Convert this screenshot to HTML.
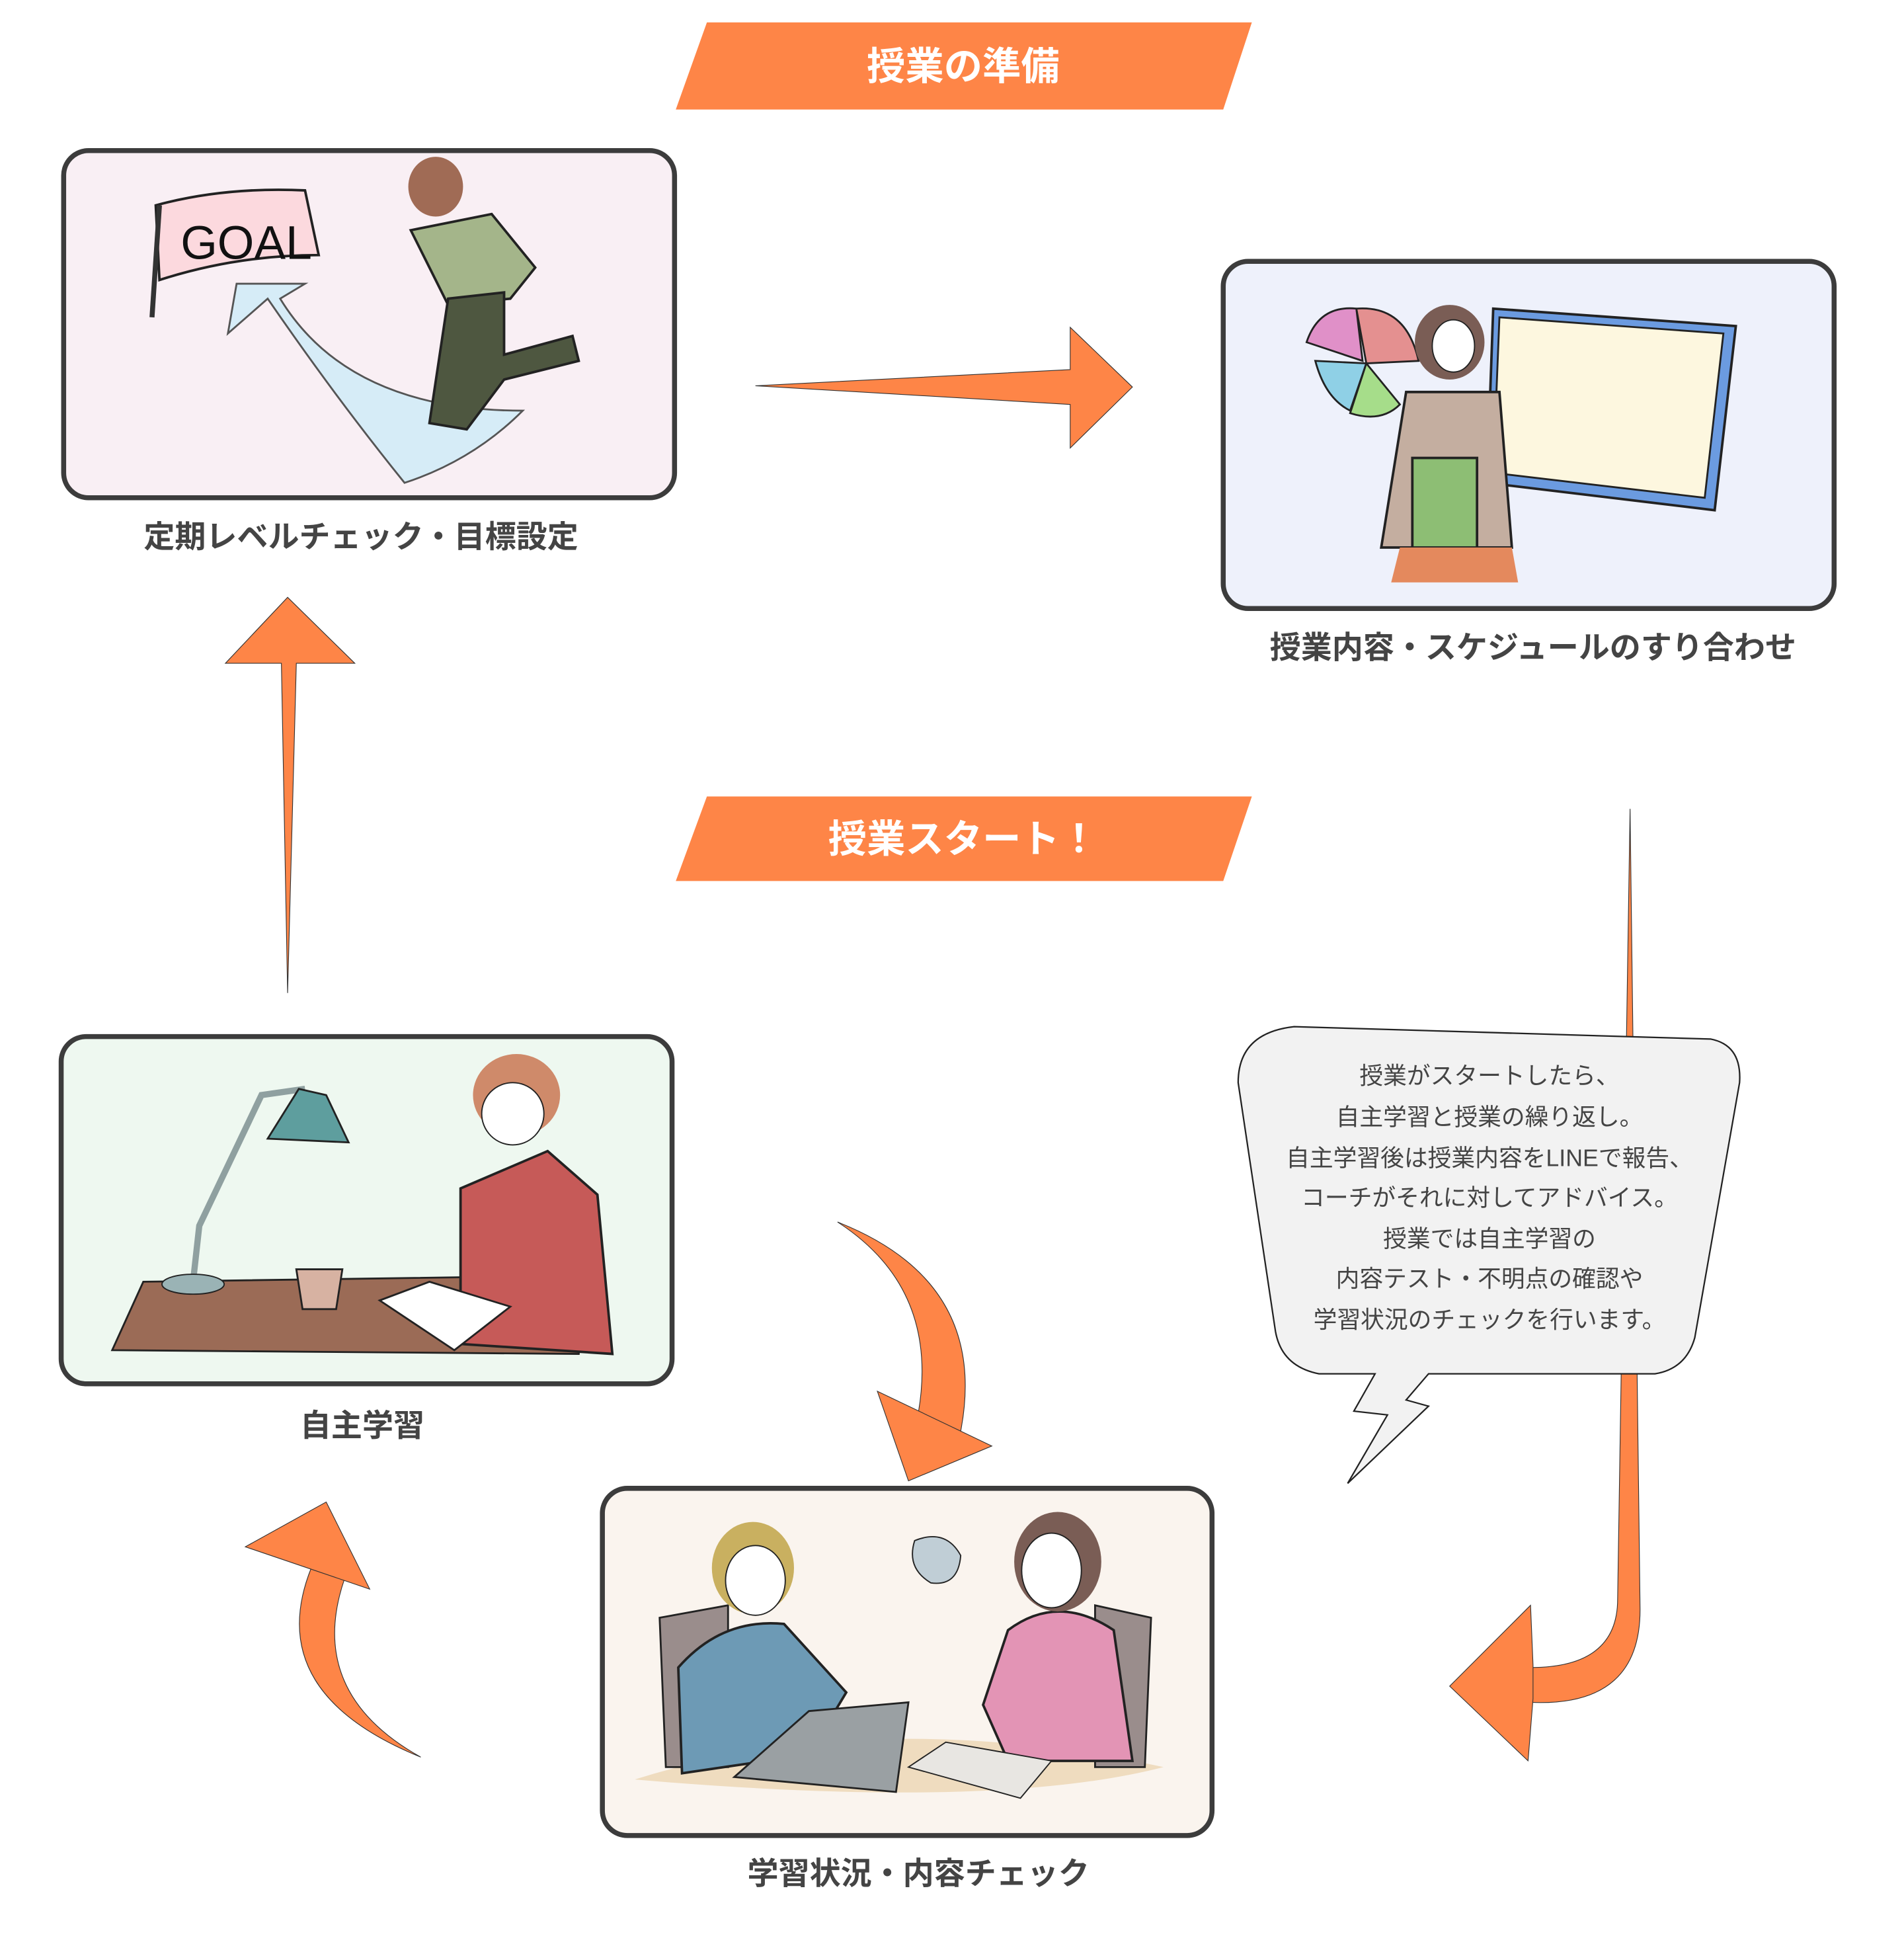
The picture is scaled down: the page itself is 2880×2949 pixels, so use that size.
<!DOCTYPE html>
<html><head><meta charset="utf-8"><style>
html,body{margin:0;padding:0;background:#fff;}
svg{display:block;}
text{font-family:"Liberation Sans","Noto Sans CJK JP",sans-serif;}
</style></head><body>
<svg width="2880" height="2949" viewBox="0 0 1530 1567" xmlns="http://www.w3.org/2000/svg">
<!-- banners -->
<polygon points="568,18 1006,18 983,88 543,88" fill="#fe8547"/>
<text x="774" y="64" font-size="31" font-weight="bold" fill="#fff" text-anchor="middle">授業の準備</text>
<polygon points="568,640 1006,640 983,708 543,708" fill="#fe8547"/>
<text x="774" y="685" font-size="31" font-weight="bold" fill="#fff" text-anchor="middle">授業スタート！</text>

<!-- box1 -->
<rect x="51" y="121" width="491" height="279" rx="20" fill="#f9eff4" stroke="#3c3c3c" stroke-width="4"/>
<path d="M125,165 Q180,150 245,153 L256,205 Q190,205 128,225 Z" fill="#fcd9de" stroke="#222" stroke-width="2"/>
<line x1="128" y1="165" x2="122" y2="255" stroke="#333" stroke-width="4"/>
<text x="145" y="208" font-size="38" fill="#111" font-family="Liberation Sans">GOAL</text>
<path d="M183,268 L190,228 L245,228 L225,240 Q280,330 420,330 Q380,370 325,388 Q270,320 215,240 Z" fill="#d6ecf7" stroke="#555" stroke-width="1.5"/>
<ellipse cx="350" cy="150" rx="22" ry="24" fill="#a06b55"/>
<path d="M330,185 L395,172 L430,215 L410,240 L360,245 Z" fill="#a4b58a" stroke="#222" stroke-width="2"/>
<path d="M360,240 L405,235 L405,285 L460,270 L465,290 L405,305 L375,345 L345,340 Z" fill="#4e5740" stroke="#222" stroke-width="2"/>
<text x="290" y="440" font-size="25" font-weight="bold" fill="#444" text-anchor="middle">定期レベルチェック・目標設定</text>

<!-- box2 -->
<rect x="983" y="210" width="491" height="279" rx="20" fill="#eef1fb" stroke="#3c3c3c" stroke-width="4"/>
<path d="M1200,248 L1395,262 L1378,410 L1195,388 Z" fill="#6b9be0" stroke="#222" stroke-width="2"/>
<path d="M1205,255 L1385,268 L1370,400 L1200,380 Z" fill="#fdf7df" stroke="#222" stroke-width="1.5"/>
<path d="M1095,290 L1050,275 Q1060,245 1090,248 Z" fill="#e090c8" stroke="#222" stroke-width="1.5"/>
<path d="M1098,292 L1090,248 Q1130,245 1140,290 Z" fill="#e49090" stroke="#222" stroke-width="1.5"/>
<path d="M1098,292 L1057,290 Q1065,320 1085,330 Z" fill="#8fd0e6" stroke="#222" stroke-width="1.5"/>
<path d="M1098,292 L1085,332 Q1110,340 1125,325 Z" fill="#a6dd8a" stroke="#222" stroke-width="1.5"/>
<ellipse cx="1165" cy="275" rx="28" ry="30" fill="#7a5d55"/>
<ellipse cx="1168" cy="278" rx="17" ry="21" fill="#fff" stroke="#222"/>
<path d="M1130,315 L1205,315 L1215,440 L1110,440 Z" fill="#c4aea0" stroke="#222" stroke-width="2"/>
<rect x="1135" y="368" width="52" height="72" fill="#8dbe74" stroke="#222" stroke-width="2"/>
<path d="M1125,440 L1215,440 L1220,468 L1118,468 Z" fill="#e4895d"/>
<text x="1232" y="529" font-size="25" font-weight="bold" fill="#444" text-anchor="middle">授業内容・スケジュールのすり合わせ</text>

<!-- box3 -->
<rect x="49" y="833" width="491" height="279" rx="20" fill="#eef8f0" stroke="#3c3c3c" stroke-width="4"/>
<path d="M115,1030 L470,1025 L465,1088 L90,1085 Z" fill="#9b6b56" stroke="#222" stroke-width="1.5"/>
<path d="M155,1030 L160,985 L210,880 L245,875" fill="none" stroke="#8fa0a0" stroke-width="5"/>
<ellipse cx="155" cy="1032" rx="25" ry="8" fill="#9ab3b5" stroke="#222"/>
<path d="M215,915 L280,918 L262,880 L240,875 Z" fill="#5e9e9e" stroke="#222" stroke-width="1.5"/>
<path d="M238,1020 L275,1020 L270,1052 L243,1052 Z" fill="#d7b2a2" stroke="#222" stroke-width="1.5"/>
<path d="M370,955 L440,925 L480,960 L492,1088 L370,1080 Z" fill="#c65a58" stroke="#222" stroke-width="2"/>
<ellipse cx="415" cy="880" rx="35" ry="33" fill="#cf8a6a"/>
<ellipse cx="412" cy="895" rx="25" ry="25" fill="#fff" stroke="#222"/>
<path d="M305,1045 L345,1030 L410,1050 L365,1085 Z" fill="#fff" stroke="#222" stroke-width="1.5"/>
<text x="291" y="1154" font-size="25" font-weight="bold" fill="#444" text-anchor="middle">自主学習</text>

<!-- box4 -->
<rect x="484" y="1196" width="490" height="279" rx="20" fill="#faf4ee" stroke="#3c3c3c" stroke-width="4"/>
<path d="M510,1430 Q700,1370 935,1420 Q800,1455 510,1430 Z" fill="#efdcbf"/>
<path d="M530,1300 L585,1290 L585,1420 L535,1420 Z" fill="#9a8d8c" stroke="#222" stroke-width="1.5"/>
<path d="M880,1290 L925,1300 L920,1420 L880,1420 Z" fill="#9a8d8c" stroke="#222" stroke-width="1.5"/>
<path d="M545,1340 Q580,1300 630,1305 L680,1360 L650,1410 L548,1425 Z" fill="#6d9ab5" stroke="#222" stroke-width="2"/>
<ellipse cx="605" cy="1260" rx="33" ry="37" fill="#c9b060"/>
<ellipse cx="607" cy="1270" rx="24" ry="28" fill="#fff" stroke="#222"/>
<path d="M590,1428 L650,1375 L730,1368 L720,1440 Z" fill="#9aa0a3" stroke="#222" stroke-width="1.5"/>
<path d="M810,1310 Q850,1280 895,1310 L910,1415 L810,1415 L790,1370 Z" fill="#e394b5" stroke="#222" stroke-width="2"/>
<ellipse cx="850" cy="1255" rx="35" ry="40" fill="#7a5d55"/>
<ellipse cx="845" cy="1262" rx="24" ry="30" fill="#fff" stroke="#222"/>
<path d="M735,1238 Q760,1228 772,1250 Q770,1275 748,1272 Q728,1260 735,1238 Z" fill="#c0ced6" stroke="#222"/>
<path d="M730,1420 L760,1400 L845,1415 L820,1445 Z" fill="#e8e6e2" stroke="#222" stroke-width="1"/>
<text x="738" y="1514" font-size="25" font-weight="bold" fill="#444" text-anchor="middle">学習状況・内容チェック</text>

<!-- arrows -->
<g fill="#fe8547" stroke="#333" stroke-width="0.6">
<polygon points="607,310 860,297 860,263 910,311 860,360 860,325"/>
<polygon points="231,798 226,533 181,533 231,480 285,533 238,533"/>
<path d="M1310,650 L1318,1290 Q1320,1372 1230,1368 L1230,1340 Q1300,1340 1300,1285 Z"/>
<polygon points="1230,1290 1165,1355 1228,1415 1232,1365 1232,1338"/>
<path d="M673,982 Q795,1030 772,1150 L738,1135 Q755,1035 673,982 Z"/>
<polygon points="705,1118 797,1162 730,1190"/>
<path d="M338,1412 Q210,1360 250,1260 L277,1268 Q245,1360 338,1412 Z"/>
<polygon points="197,1243 262,1207 297,1277"/>
</g>

<!-- speech bubble -->
<path d="M1040,825 L1375,835 Q1400,840 1398,870 L1362,1075 Q1355,1100 1330,1104 L1148,1104 L1130,1125 L1148,1130 L1083,1192 L1115,1137 L1088,1134 L1105,1104 L1060,1104 Q1030,1098 1025,1070 L995,870 Q995,830 1040,825 Z" fill="#f2f2f2" stroke="#222" stroke-width="1.2"/>
<g font-size="19" fill="#444" text-anchor="middle">
<text x="1197" y="871">授業がスタートしたら、</text>
<text x="1197" y="904">自主学習と授業の繰り返し。</text>
<text x="1197" y="937">自主学習後は授業内容をLINEで報告、</text>
<text x="1197" y="969">コーチがそれに対してアドバイス。</text>
<text x="1197" y="1002">授業では自主学習の</text>
<text x="1197" y="1034">内容テスト・不明点の確認や</text>
<text x="1197" y="1067">学習状況のチェックを行います。</text>
</g>
</svg>
</body></html>
